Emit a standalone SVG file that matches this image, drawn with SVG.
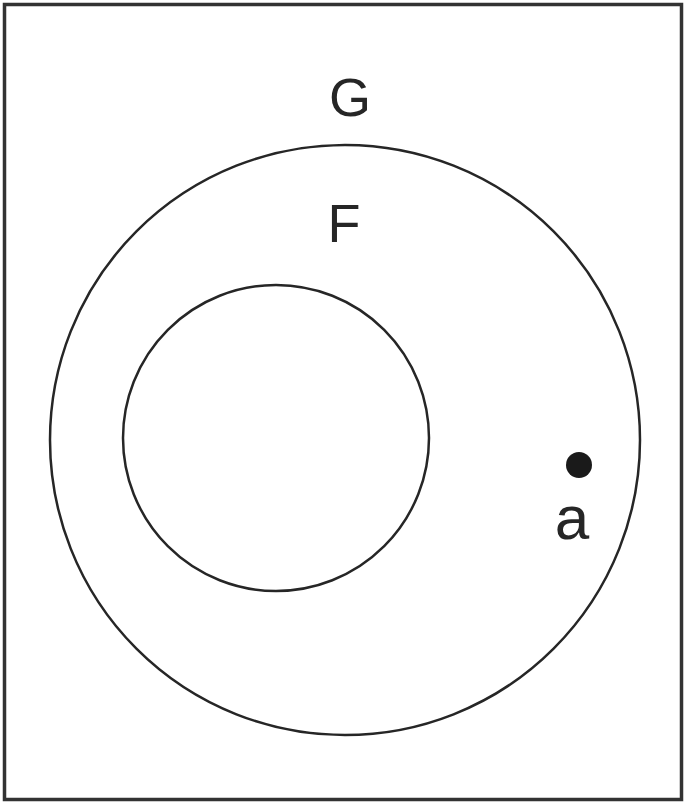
<svg xmlns="http://www.w3.org/2000/svg" width="684" height="803" viewBox="0 0 684 803">
<style>
.ln{fill:none;stroke:#262626;stroke-width:2.5}
.lbl{font-family:"Liberation Sans",Arial,sans-serif;fill:#262626;text-anchor:middle}
</style>
<rect x="0" y="0" width="684" height="803" fill="#fff"/>
<g id="frame"><rect x="4.5" y="4.5" width="677" height="795" fill="none" stroke="#333" stroke-width="3.5"/></g>
<g id="G"><circle class="ln" cx="345" cy="440" r="295"/><text class="lbl" x="350" y="116" font-size="54">G</text></g>
<g id="F"><circle class="ln" cx="276" cy="438" r="153"/><text class="lbl" x="344" y="242" font-size="54">F</text></g>
<g id="a"><circle cx="579" cy="465" r="13" fill="#1a1a1a"/><text class="lbl" x="572" y="539" font-size="62">a</text></g>
<g id="connectors"></g>
</svg>
